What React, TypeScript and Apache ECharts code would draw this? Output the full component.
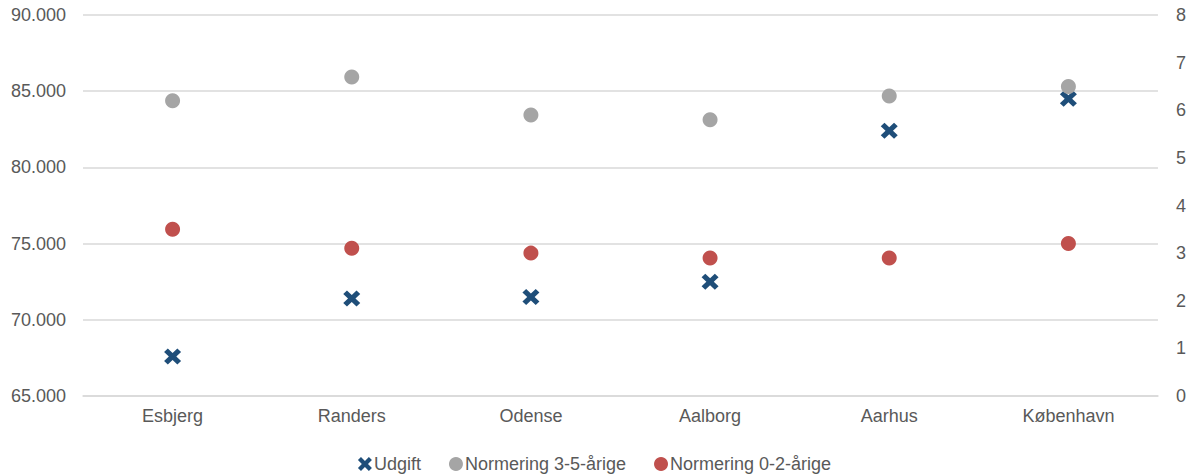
import React, { useEffect, useRef } from "react";
import * as echarts from "echarts";

const categories = ["Esbjerg", "Randers", "Odense", "Aalborg", "Aarhus", "København"];
const udgift = [67600, 71400, 71500, 72500, 82400, 84500];
const norm35 = [6.2, 6.7, 5.9, 5.8, 6.3, 6.5];
const norm02 = [3.5, 3.1, 3.0, 2.9, 2.9, 3.2];
const leftTicks = { min: 65000, max: 90000, interval: 5000 };
const rightTicks = { min: 0, max: 8, interval: 1 };

const X_PATH =
  "path://M0,3.5 L3.5,0 L8,4.5 L12.5,0 L16,3.5 L11.5,8 L16,12.5 L12.5,16 L8,11.5 L3.5,16 L0,12.5 L4.5,8 Z";

const fmt = (v: number) => String(v).replace(/\B(?=(\d{3})+(?!\d))/g, ".");

export default function App() {
  const ref = useRef<HTMLDivElement>(null);
  useEffect(() => {
    if (!ref.current) return;
    const chart = echarts.init(ref.current, null, { renderer: "svg" });
    const textColor = "#595959";
    const font = "Liberation Sans, Arial, sans-serif";
    chart.setOption({
      animation: false,
      textStyle: { fontFamily: font },
      grid: { left: 83, right: 31, top: 15, bottom: 79, containLabel: false },
      legend: {
        bottom: -3,
        left: "center",
        itemWidth: 14,
        itemHeight: 14,
        itemGap: 28,
        textStyle: { color: textColor, fontSize: 18, fontFamily: font, padding: [0, 0, 0, -3] },
        data: [
          { name: "Udgift", icon: X_PATH },
          { name: "Normering 3-5-årige", icon: "circle" },
          { name: "Normering 0-2-årige", icon: "circle" },
        ],
      },
      xAxis: {
        type: "category",
        data: categories,
        axisLine: { lineStyle: { color: "#D9D9D9", width: 1.5 } },
        axisTick: { show: false },
        axisLabel: { color: textColor, fontSize: 18, fontFamily: font, margin: 11 },
      },
      yAxis: [
        {
          type: "value",
          ...leftTicks,
          axisLine: { show: false },
          axisTick: { show: false },
          splitLine: { lineStyle: { color: "#D9D9D9", width: 1.5 } },
          axisLabel: { color: textColor, fontSize: 18, fontFamily: font, margin: 17, formatter: fmt },
        },
        {
          type: "value",
          ...rightTicks,
          position: "right",
          axisLine: { show: false },
          axisTick: { show: false },
          splitLine: { show: false },
          axisLabel: { color: textColor, fontSize: 18, fontFamily: font, margin: 18 },
        },
      ],
      series: [
        {
          name: "Udgift",
          type: "scatter",
          yAxisIndex: 0,
          data: udgift,
          symbol: X_PATH,
          symbolSize: [17, 16],
          itemStyle: { color: "#1F4E79", opacity: 1 },
          z: 2,
        },
        {
          name: "Normering 3-5-årige",
          type: "scatter",
          yAxisIndex: 1,
          data: norm35,
          symbol: "circle",
          symbolSize: 15,
          itemStyle: { color: "#A5A5A5", opacity: 1 },
          z: 3,
        },
        {
          name: "Normering 0-2-årige",
          type: "scatter",
          yAxisIndex: 1,
          data: norm02,
          symbol: "circle",
          symbolSize: 15,
          itemStyle: { color: "#C0504D", opacity: 1 },
          z: 4,
        },
      ],
    });
    return () => chart.dispose();
  }, []);
  return (
    <div
      ref={ref}
      style={{ position: "fixed", left: 0, top: 0, width: 1189, height: 475, background: "#fff" }}
    />
  );
}
